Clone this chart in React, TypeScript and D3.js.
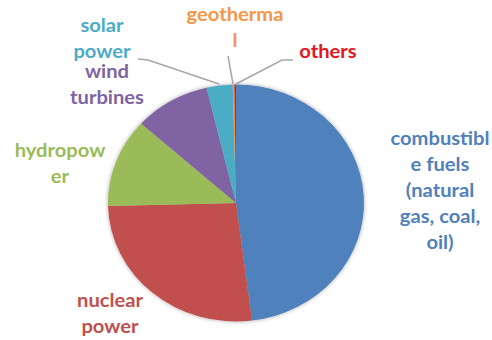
import React from "react";
import * as d3 from "d3";

const categories = ["combustible fuels (natural gas, coal, oil)", "nuclear power", "hydropower", "wind turbines", "solar power", "geothermal", "others"];
const values = [48.0, 26.6, 12.1, 9.6, 3.3, 0.2, 0.2];
const labelLines = [
  ["combustibl", "e fuels", "(natural", "gas, coal,", "oil)"],
  ["nuclear", "power"],
  ["hydropow", "er"],
  ["wind", "turbines"],
  ["solar", "power"],
  ["geotherma", "l"],
  ["others"],
];

const sliceColors = ["#4F81BD", "#C0504D", "#9BBB59", "#8064A2", "#4BACC6", "#F79646", "#E8171F"];
const textColors = ["#4F81BD", "#C0504D", "#9BBB59", "#8064A2", "#4BACC6", "#F79646", "#E3161E"];
// label layout: center x, first baseline y
const labelPos = [
  [440, 145],
  [110, 307],
  [60, 157],
  [107, 78],
  [102, 32],
  [235, 21],
  [328, 58],
];
const leaders: (number[][] | null)[] = [
  null, null, null, null,
  [[138, 59], [148, 60], [219, 84]],
  [[228, 56], [233, 84]],
  [[293, 60], [282, 60], [236, 84]],
];

export default function App() {
  const W = 492, H = 340;
  const cx = 236, cy = 203, ry = 118.5, rx = 128;
  const pie = d3.pie<number>().sort(null).value((d) => d);
  const arcs = pie(values);
  const arc = d3.arc<d3.PieArcDatum<number>>().innerRadius(0).outerRadius(ry);
  const line = d3.line();
  return (
    <svg width={W} height={H} style={{ position: "absolute", left: 0, top: 0, background: "#fff" }}>
      <defs>
        <filter id="sh" x="-20%" y="-20%" width="140%" height="140%">
          <feGaussianBlur in="SourceAlpha" stdDeviation="2" />
          <feOffset dx="0" dy="0" result="b" />
          <feComponentTransfer><feFuncA type="linear" slope="0.35" /></feComponentTransfer>
          <feMerge><feMergeNode /><feMergeNode in="SourceGraphic" /></feMerge>
        </filter>
      </defs>
      <g transform={`translate(${cx},${cy}) scale(${rx / ry},1)`} filter="url(#sh)">
        {arcs.map((a, i) => (
          <path key={i} d={arc(a) || ""} fill={sliceColors[i]} />
        ))}
      </g>
      {leaders.map((l, i) =>
        l ? <path key={i} d={line(l as [number, number][]) || ""} fill="none" stroke="#A6A6A6" strokeWidth={1.5} /> : null
      )}
      {labelLines.map((lines, i) => (
        <g key={i} transform={`translate(${labelPos[i][0]},0) scale(1.12,1)`}>
          <text fill={textColors[i]} fontFamily="Lato, 'Open Sans', sans-serif" fontWeight="bold" fontSize={18} textAnchor="middle">
            {lines.map((t, j) => (
              <tspan key={j} x={0} y={labelPos[i][1] + j * 26}>{t}</tspan>
            ))}
          </text>
        </g>
      ))}
    </svg>
  );
}
